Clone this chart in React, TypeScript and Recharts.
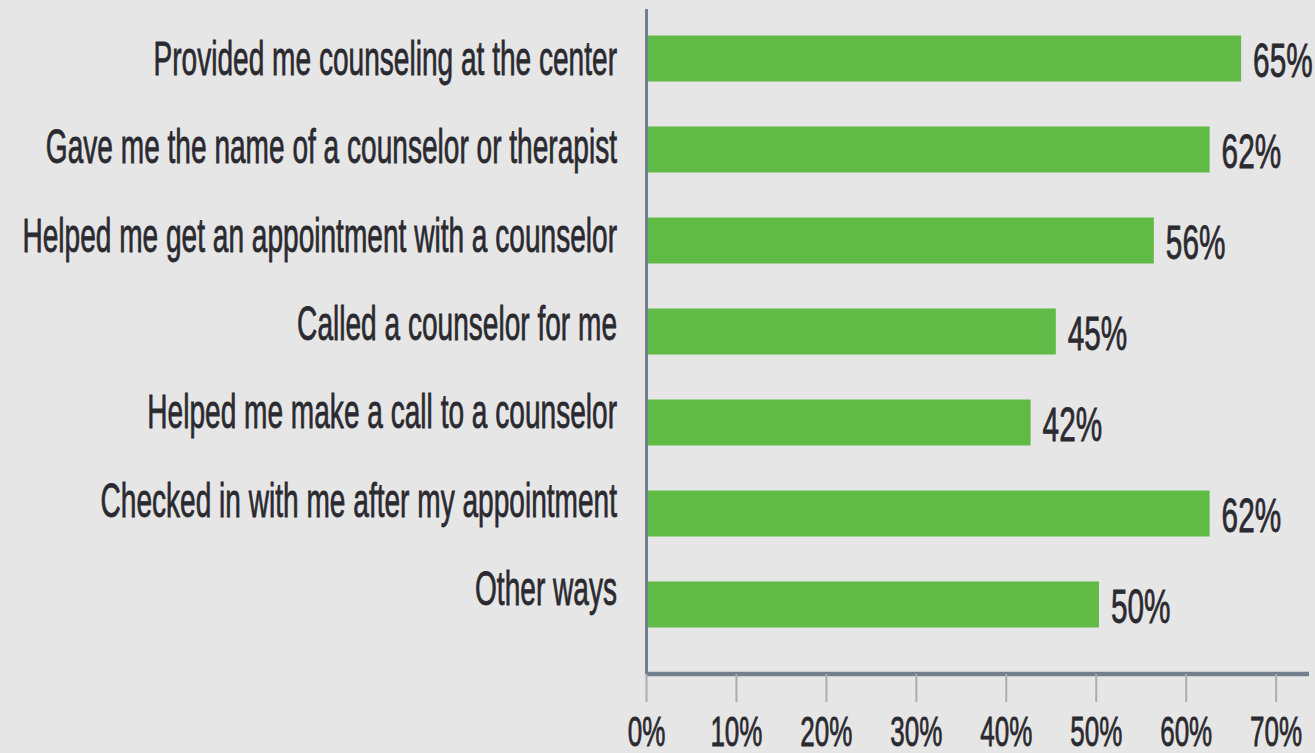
import { BarChart, Bar, XAxis, YAxis, LabelList } from 'recharts';

const categories = [
  'Provided me counseling at the center',
  'Gave me the name of a counselor or therapist',
  'Helped me get an appointment with a counselor',
  'Called a counselor for me',
  'Helped me make a call to a counselor',
  'Checked in with me after my appointment',
  'Other ways',
];
// bar lengths as drawn in the picture (the printed labels are rounded a bit lower)
const barValues = [66.1, 62.6, 56.4, 45.5, 42.7, 62.6, 50.3];
const valueLabels = ['65%', '62%', '56%', '45%', '42%', '62%', '50%'];
const xTicks = [0, 10, 20, 30, 40, 50, 60, 70];

const data = categories.map((name, i) => ({ name, value: barValues[i], label: valueLabels[i] }));

const FONT = '"Liberation Sans", Arial, sans-serif';
const TEXT = '#2a2a30';
const AXIS = '#737f8a';

const CategoryTick = (props: any) => {
  const { x, y, payload, index } = props;
  // the source labels drift slightly upward relative to their bars
  const dy = 17 - 2.7 * index;
  return (
    <text transform={`translate(${x}, ${y + dy}) scale(0.585, 1)`} textAnchor="end" fill={TEXT} stroke={TEXT} strokeWidth={0.8} fontSize={48} fontFamily={FONT}>
      {payload.value}
    </text>
  );
};

const PercentTick = (props: any) => {
  const { x, y, payload } = props;
  return (
    <text transform={`translate(${x}, ${y + 44}) scale(0.62, 1)`} textAnchor="middle" fill={TEXT} stroke={TEXT} strokeWidth={0.8} fontSize={42} fontFamily={FONT}>
      {payload.value}%
    </text>
  );
};

const ValueLabel = (props: any) => {
  const { x, y, width, height, value } = props;
  return (
    <text transform={`translate(${x + width + 12}, ${y + height / 2 + 18}) scale(0.62, 1)`} fill={TEXT} stroke={TEXT} strokeWidth={0.8} fontSize={48} fontFamily={FONT}>
      {value}
    </text>
  );
};

export default function App() {
  return (
    <div style={{ position: 'absolute', left: 0, top: 0, width: 1315, height: 753, background: '#e6e6e6', overflow: 'hidden' }}>
      <BarChart width={1315} height={753} data={data} layout="vertical" margin={{ top: 9, right: 6, left: 0, bottom: 0 }}>
        <XAxis
          type="number"
          domain={[0, 73.65]}
          ticks={xTicks}
          interval={0}
          height={79}
          tickSize={28}
          tickMargin={0}
          axisLine={{ stroke: AXIS, strokeWidth: 4.5 }}
          tickLine={{ stroke: '#a6adb5', strokeWidth: 2 }}
          tick={<PercentTick />}
        />
        <YAxis
          type="category"
          dataKey="name"
          width={646.5}
          padding={{ top: 3.5, bottom: 24.5 }}
          tickSize={0}
          tickMargin={29.5}
          interval={0}
          axisLine={{ stroke: AXIS, strokeWidth: 3 }}
          tickLine={false}
          tick={<CategoryTick />}
        />
        <Bar dataKey="value" fill="#5fba46" barSize={46} isAnimationActive={false}>
          <LabelList dataKey="label" content={<ValueLabel />} />
        </Bar>
      </BarChart>
    </div>
  );
}
